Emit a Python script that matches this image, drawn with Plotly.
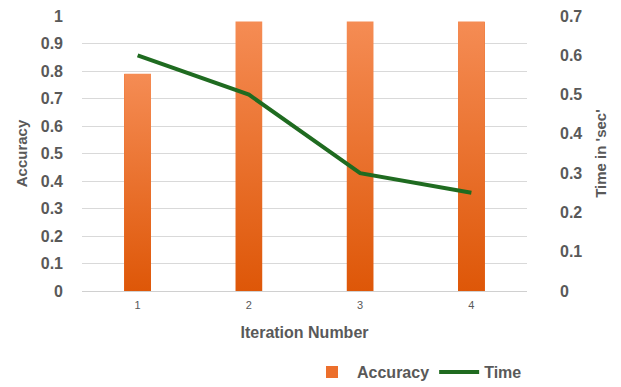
import plotly.graph_objects as go

# Chart data
iterations = [1, 2, 3, 4]
accuracy = [0.79, 0.98, 0.98, 0.98]
time_sec = [0.6, 0.5, 0.3, 0.25]
acc_ticks = [0, 0.1, 0.2, 0.3, 0.4, 0.5, 0.6, 0.7, 0.8, 0.9, 1]
time_ticks = [0, 0.1, 0.2, 0.3, 0.4, 0.5, 0.6, 0.7]

BAR_W = 0.24
GREY = "#595959"
FONT = "Liberation Sans"

fig = go.Figure()

# Accuracy bars (solid base, carries the legend entry)
fig.add_trace(go.Bar(
    x=iterations, y=accuracy, width=BAR_W, name="Accuracy",
    marker=dict(color="#EC6F2C", line=dict(width=0)),
    yaxis="y",
))

# Vertical gradient overlay on each bar
for xi, v in zip(iterations, accuracy):
    fig.add_trace(go.Scatter(
        x=[xi - BAR_W / 2, xi + BAR_W / 2], y=[v, v],
        mode="lines", line=dict(width=0), fill="tozeroy",
        fillgradient=dict(type="vertical",
                          colorscale=[[0, "#DE5708"], [1, "#F58C54"]]),
        showlegend=False, hoverinfo="skip", yaxis="y",
    ))

# Time line on the secondary axis
fig.add_trace(go.Scatter(
    x=iterations, y=time_sec, name="Time", mode="lines",
    line=dict(color="#1F6B20", width=4),
    yaxis="y2",
))

tickfont = dict(family=FONT, size=16, color=GREY, weight="bold")
titlefont = dict(family=FONT, size=15, color=GREY, weight="bold")

fig.update_layout(
    width=621, height=387,
    margin=dict(l=82, r=94, t=16, b=96, autoexpand=False),
    paper_bgcolor="white", plot_bgcolor="white",
    showlegend=True,
    legend=dict(orientation="h", x=1.0, xanchor="right", y=-0.295,
                yanchor="middle", font=dict(family=FONT, size=16, color=GREY, weight="bold"),
                traceorder="normal", itemwidth=40),
    xaxis=dict(range=[0.5, 4.5], tickvals=iterations, ticktext=[str(i) for i in iterations],
               tickfont=dict(family=FONT, size=11, color=GREY), showgrid=False,
               showline=True, linecolor="#D0D0D0", linewidth=1, zeroline=False, ticks="",
               ticklabelstandoff=4,
               title=dict(text="Iteration Number", font=dict(family=FONT, size=16, color=GREY, weight="bold"),
                          standoff=16)),
    yaxis=dict(range=[0, 1], tickvals=acc_ticks, ticktext=[f"{t:g}" for t in acc_ticks],
               tickfont=tickfont, showgrid=True, gridcolor="#D9D9D9", gridwidth=1,
               zeroline=False, showline=False, ticks="", ticklabelstandoff=18,
               title=dict(text="Accuracy", font=titlefont, standoff=9)),
    yaxis2=dict(range=[0, 0.7], tickvals=time_ticks, ticktext=[f"{t:g}" for t in time_ticks],
                overlaying="y", side="right", tickfont=tickfont, showgrid=False,
                zeroline=False, showline=False, ticks="", ticklabelstandoff=32,
                title=dict(text="Time in 'sec'", font=titlefont, standoff=14)),
    bargap=0,
)

fig.write_html("out.html")
